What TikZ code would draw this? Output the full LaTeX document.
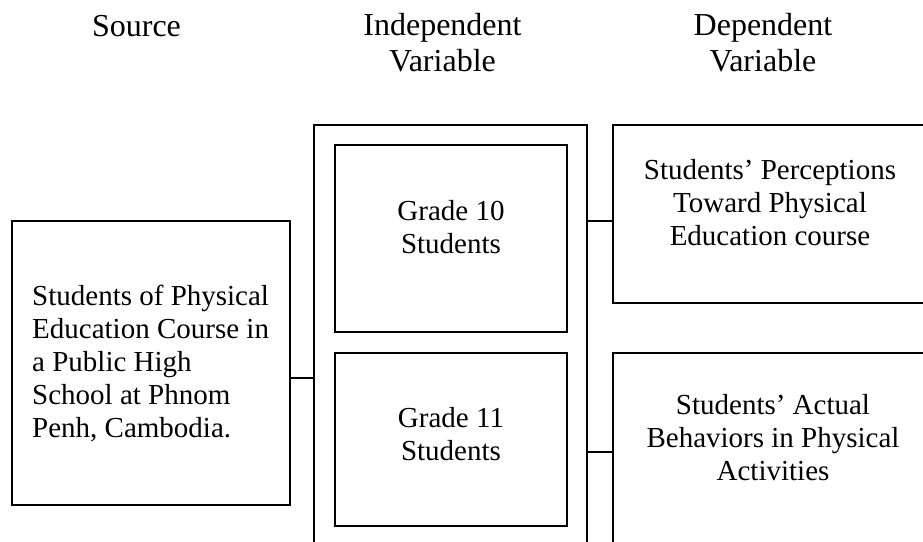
\documentclass[tikz,border=0pt]{standalone}
\usepackage{fontspec}
\setmainfont{Liberation Serif}
\begin{document}
\begin{tikzpicture}[x=1pt,y=-1pt,
  frame/.style={draw=black, line width=1.6pt, fill=none},
  link/.style={draw=black, line width=1.6pt},
  txt/.style={inner sep=0pt, font=\fontsize{29}{33}\selectfont},
  head/.style={inner sep=0pt, align=center, font=\fontsize{32}{36}\selectfont}]
\useasboundingbox (0,0) rectangle (923,541);
\clip (0,0) rectangle (923,541);
% boxes
\path[frame] (12,221) rectangle (290,505);
\coordinate (srcR) at (290,378);
\path[frame] (314,125) rectangle (587,570);
\coordinate (ivL) at (314,378);
\coordinate (ivR1) at (587,221);
\coordinate (ivR2) at (587,452);
\path[frame] (335,145) rectangle (567,332);
\path[frame] (335,353) rectangle (567,526);
\path[frame] (613,125) rectangle (940,303);
\coordinate (dv1L) at (613,221);
\path[frame] (613,353) rectangle (940,570);
\coordinate (dv2L) at (613,452);
% connectors
\draw[link] (srcR) -- (ivL);
\draw[link] (ivR1) -- (dv1L);
\draw[link] (ivR2) -- (dv2L);
% headers
\node[head, anchor=base] (h1) at (136.5,36) {Source};
\node[head] (h2) at (442.5,43) {Independent\\Variable};
\node[head] (h3) at (763,43) {Dependent\\Variable};
% texts
\node[txt, align=left, anchor=west] (src) at (32,364) {Students of Physical\\Education Course in\\a Public High\\School at Phnom\\Penh, Cambodia.};
\node[txt, align=center] (g10) at (451,227) {Grade 10\\Students};
\node[txt, align=center] (g11) at (451,434) {Grade 11\\Students};
\node[txt, align=center] (dv1) at (770,203) {Students’ Perceptions\\Toward Physical\\Education course};
\node[txt, align=center] (dv2) at (773,438) {Students’ Actual\\Behaviors in Physical\\Activities};
\end{tikzpicture}
\end{document}
